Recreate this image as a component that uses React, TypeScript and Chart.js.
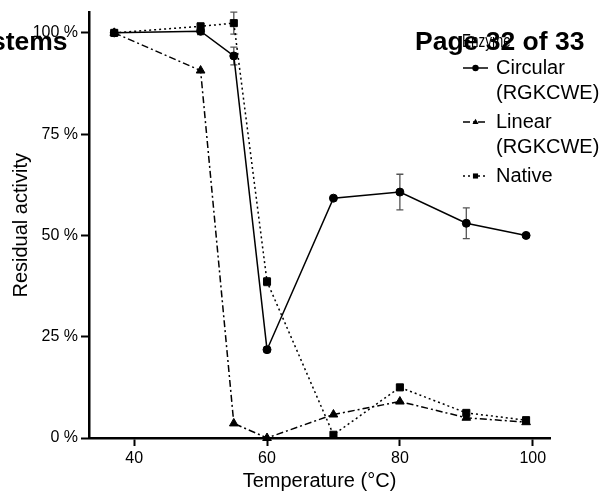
import React, { useEffect, useRef } from "react";
import { Chart, registerables } from "chart.js";

Chart.register(...registerables);

// ---- data ----
const temperatures = [37, 50, 55, 60, 70, 80, 90, 99];
const circular = [100, 100.4, 94.3, 21.8, 59.2, 60.7, 53.0, 50.0];
const circularErr = [0, 0.8, 2.2, 0.6, 0.3, 4.4, 3.8, 0.4];
const linear = [100, 90.7, 3.6, 0, 5.8, 9.0, 5.0, 3.9];
const native = [100, 101.6, 102.4, 38.6, 0.8, 12.5, 6.2, 4.4];
const nativeErr = [0, 0.8, 2.7, 1.0, 0.2, 0.6, 0.4, 0.5];

const seriesNames = ["Circular (RGKCWE)", "Linear (RGKCWE)", "Native"];
const seriesLegendLines = [["Circular", "(RGKCWE)"], ["Linear", "(RGKCWE)"], ["Native"]];
const legendTitle = "Enzyme";
const xTicks = [40, 60, 80, 100];
const yTicks = [0, 25, 50, 75, 100];
const xTitle = "Temperature (°C)";
const yTitle = "Residual activity";
const headerLeft = "stems";
const headerRight = "Page 32 of 33";

const FONT = '"Liberation Sans", Arial, Helvetica, sans-serif';

const toPoints = (ys: number[]) => temperatures.map((t, i) => ({ x: t, y: ys[i] }));
const errorSets: (number[] | null)[] = [circularErr, null, nativeErr];

function drawMarker(ctx: CanvasRenderingContext2D, style: string, x: number, y: number, r: number) {
  ctx.beginPath();
  if (style === "circle") {
    ctx.arc(x, y, r, 0, Math.PI * 2);
  } else if (style === "triangle") {
    ctx.moveTo(x, y - r);
    ctx.lineTo(x + r * 0.95, y + r * 0.6);
    ctx.lineTo(x - r * 0.95, y + r * 0.6);
    ctx.closePath();
  } else {
    ctx.rect(x - r * 0.8, y - r * 0.8, r * 1.6, r * 1.6);
  }
  ctx.fill();
}

const errorBarPlugin = {
  id: "errorBars",
  beforeDatasetsDraw(chart: any) {
    const { ctx } = chart;
    const x = chart.scales.x;
    const y = chart.scales.y;
    ctx.save();
    ctx.strokeStyle = "#555";
    ctx.lineWidth = 1.3;
    chart.data.datasets.forEach((ds: any, i: number) => {
      const errs = errorSets[i];
      if (!errs) return;
      ds.data.forEach((p: any, j: number) => {
        const e = errs[j];
        if (!e) return;
        const px = x.getPixelForValue(p.x);
        const top = y.getPixelForValue(p.y + e);
        const bot = y.getPixelForValue(p.y - e);
        ctx.beginPath();
        ctx.moveTo(px, top);
        ctx.lineTo(px, bot);
        ctx.moveTo(px - 3.5, top);
        ctx.lineTo(px + 3.5, top);
        ctx.moveTo(px - 3.5, bot);
        ctx.lineTo(px + 3.5, bot);
        ctx.stroke();
      });
    });
    ctx.restore();
  },
};

const legendPlugin = {
  id: "customLegend",
  afterDraw(chart: any) {
    const { ctx, chartArea } = chart;
    const sx0 = chartArea.right - 87;
    const sx1 = sx0 + 25;
    const tx = sx1 + 8;
    ctx.save();
    ctx.fillStyle = "#000";
    ctx.textBaseline = "middle";
    ctx.textAlign = "left";
    // legend title (narrow)
    ctx.save();
    ctx.translate(sx0 - 1, 42);
    ctx.scale(0.75, 1);
    ctx.font = `18px ${FONT}`;
    ctx.fillText(legendTitle, 0, 0);
    ctx.restore();
    ctx.font = `20px ${FONT}`;
    let yy = 68;
    chart.data.datasets.forEach((ds: any, i: number) => {
      const lines = seriesLegendLines[i];
      ctx.strokeStyle = "#000";
      ctx.lineWidth = 1.5;
      ctx.setLineDash(ds.borderDash || []);
      ctx.beginPath();
      ctx.moveTo(sx0, yy);
      ctx.lineTo(sx1, yy);
      ctx.stroke();
      ctx.setLineDash([]);
      drawMarker(ctx, ds.pointStyle, (sx0 + sx1) / 2, yy, 3.2);
      lines.forEach((t, j) => ctx.fillText(t, tx, yy + j * 25));
      yy += lines.length * 25 + 4;
    });
    ctx.restore();
  },
};

export default function App() {
  const ref = useRef<HTMLCanvasElement>(null);

  useEffect(() => {
    if (!ref.current) return;
    const common = {
      borderColor: "#000",
      backgroundColor: "#000",
      pointBackgroundColor: "#000",
      pointBorderColor: "#000",
      borderWidth: 1.5,
      pointBorderWidth: 1,
      tension: 0,
      clip: false as any,
    };
    const chart = new Chart(ref.current, {
      type: "line",
      data: {
        datasets: [
          { ...common, label: seriesNames[0], data: toPoints(circular), pointStyle: "circle", pointRadius: 4 },
          { ...common, label: seriesNames[1], data: toPoints(linear), pointStyle: "triangle", pointRadius: 5, borderDash: [7, 3, 2, 3] },
          { ...common, label: seriesNames[2], data: toPoints(native), pointStyle: "rect", pointRadius: 5, borderDash: [2, 3] },
        ] as any,
      },
      options: {
        responsive: false,
        devicePixelRatio: 1,
        animation: false,
        events: [],
        layout: { padding: { top: 10, right: 54, bottom: 0, left: 0 } },
        plugins: { legend: { display: false }, tooltip: { enabled: false } },
        scales: {
          x: {
            type: "linear",
            min: 33.2,
            max: 102.6,
            afterBuildTicks: (s: any) => {
              s.ticks = xTicks.map((v) => ({ value: v }));
            },
            afterFit: (s: any) => {
              s.height = 57;
            },
            grid: { display: true, drawOnChartArea: false, drawTicks: true, tickLength: 8, tickWidth: 2, tickColor: "#000", color: "#000" },
            border: { display: true, color: "#000", width: 2.5 },
            ticks: { color: "#000", font: { family: FONT, size: 16 }, padding: 3, maxRotation: 0, autoSkip: false },
            title: { display: true, text: xTitle, color: "#000", font: { family: FONT, size: 20 }, padding: { top: 0, bottom: 2 } },
          },
          y: {
            type: "linear",
            min: 0,
            max: 105,
            afterBuildTicks: (s: any) => {
              s.ticks = yTicks.map((v) => ({ value: v }));
            },
            afterFit: (s: any) => {
              s.width = 89;
            },
            grid: { display: true, drawOnChartArea: false, drawTicks: true, tickLength: 8, tickWidth: 2, tickColor: "#000", color: "#000" },
            border: { display: true, color: "#000", width: 2.5 },
            ticks: { color: "#000", font: { family: FONT, size: 16 }, padding: 3, callback: (v: any) => `${v} %` },
            title: { display: true, text: yTitle, color: "#000", font: { family: FONT, size: 20 }, padding: { top: 9, bottom: 0 } },
          },
        } as any,
      },
      plugins: [errorBarPlugin, legendPlugin],
    } as any);
    return () => chart.destroy();
  }, []);

  const headStyle: React.CSSProperties = {
    position: "absolute",
    top: 28,
    font: `bold 26.5px ${FONT}`,
    lineHeight: "26.5px",
    color: "#000",
    whiteSpace: "nowrap",
  };

  return (
    <div style={{ position: "absolute", left: 0, top: 0, width: 604, height: 495, overflow: "hidden", background: "#fff" }}>
      <canvas ref={ref} width={604} height={495} style={{ display: "block", width: 604, height: 495 }} />
      <div style={{ ...headStyle, left: -9 }}>{headerLeft}</div>
      <div style={{ ...headStyle, left: 415 }}>{headerRight}</div>
    </div>
  );
}
